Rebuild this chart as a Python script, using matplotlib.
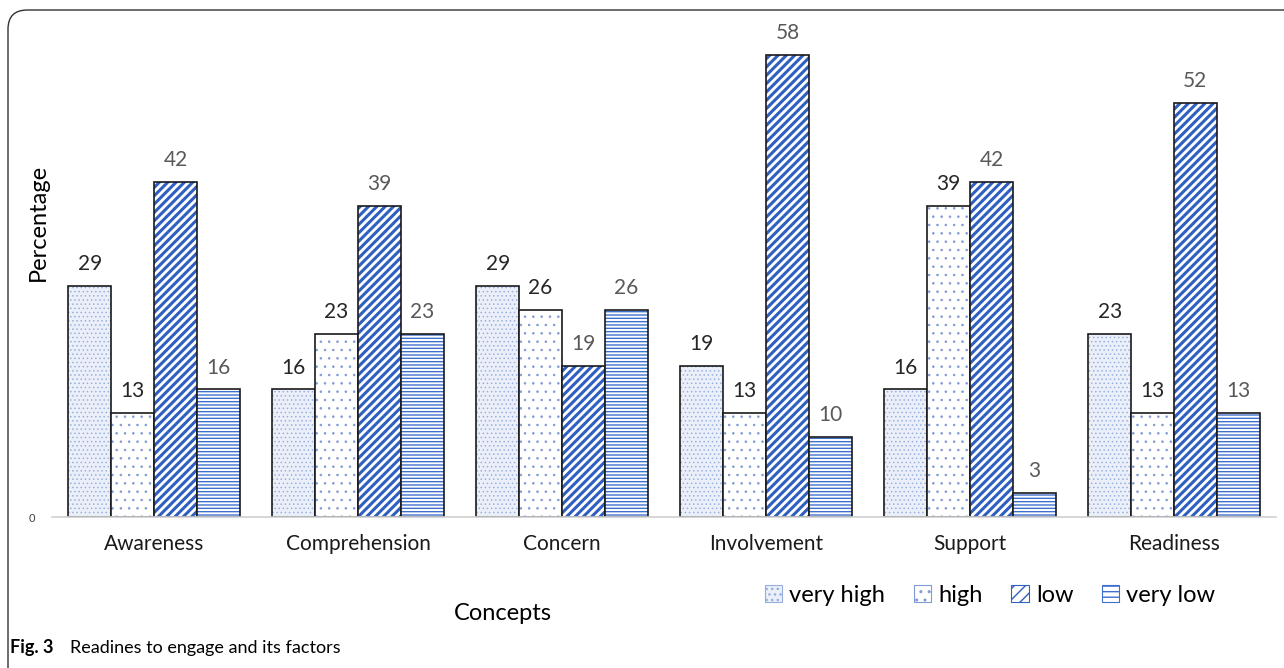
import numpy as np
import matplotlib.pyplot as plt
from matplotlib.patches import FancyBboxPatch, Patch

plt.rcParams['font.family'] = ['Lato', 'DejaVu Sans']

# --- data ---
concepts = ['Awareness', 'Comprehension', 'Concern', 'Involvement', 'Support', 'Readiness']
series = ['very high', 'high', 'low', 'very low']
very_high = [29, 16, 29, 19, 16, 23]
high = [13, 23, 26, 13, 39, 13]
low = [42, 39, 19, 58, 42, 52]
very_low = [16, 23, 26, 10, 3, 13]

values = [very_high, high, low, very_low]
faces = ['#eaeff9', 'white', 'white', 'white']
hatches = ['....', '..', '////', '-----']
hatch_cols = ['#97aedc', '#7f9bd4', '#2f5fc0', '#3f6fcc']
hatch_lw = [0.55, 0.6, 2.2, 1.0]
label_colors = ['#262626', '#262626', '#595959', '#595959']

fig = plt.figure(figsize=(12.84, 6.68), dpi=100)
ax = fig.add_axes([52 / 1284, 1 - 517 / 668, (1276 - 52) / 1284, (517 - 30) / 668])

x = np.arange(len(concepts))
w = 0.21
for i, vals in enumerate(values):
    pos = x + (i - 1.5) * w
    # hatch layer first, black outline on top
    plt.rcParams['hatch.linewidth'] = hatch_lw[i]
    ax.bar(pos, vals, w, color=faces[i], edgecolor=hatch_cols[i], hatch=hatches[i], linewidth=0)
    ax.bar(pos, vals, w, color='none', edgecolor='#1a1a1a', linewidth=1.2)
    for p, v in zip(pos, vals):
        ax.text(p, v + 1.5, str(v), ha='center', va='bottom', fontsize=15, color=label_colors[i])

ax.set_xlim(-0.5, 5.5)
ax.set_ylim(0, 61.1)
ax.set_yticks([0])
ax.tick_params(axis='y', length=0, labelsize=8, colors='#404040', pad=12)
ax.tick_params(axis='x', length=0, labelsize=15, pad=12)
ax.set_xticks(x)
ax.set_xticklabels(concepts, color='#1a1a1a')
for s in ['top', 'right', 'left']:
    ax.spines[s].set_visible(False)
ax.spines['bottom'].set_color('#d0d0d0')
ax.spines['bottom'].set_linewidth(1.2)

fig.text(38 / 1284, 1 - 222 / 668, 'Percentage', rotation=90, ha='center', va='center', fontsize=17)
fig.text(503 / 1284, 1 - 614 / 668, 'Concepts', ha='center', va='center', fontsize=17)

# legend
handles = []
for i in range(4):
    plt.rcParams['hatch.linewidth'] = min(hatch_lw[i], 1.2)
    handles.append(Patch(facecolor=faces[i], edgecolor=hatch_cols[i], hatch=hatches[i][:3], linewidth=0.8))
fig.legend(handles, series, loc='center', bbox_to_anchor=(990 / 1284, 1 - 595 / 668),
           ncol=4, frameon=False, fontsize=17, handlelength=0.75, handleheight=0.75,
           handletextpad=0.3, columnspacing=1.2)

# caption
fig.text(10 / 1284, 1 - 648 / 668, 'Fig. 3', fontsize=13, fontweight='bold', va='center', ha='left')
fig.text(70 / 1284, 1 - 648 / 668, 'Readines to engage and its factors', fontsize=13, va='center', ha='left')

# rounded frame
frame = FancyBboxPatch((8 / 1284, -0.05), 1.1, 1 - 10 / 668 + 0.05,
                       boxstyle='round,pad=0,rounding_size=0.015', transform=fig.transFigure,
                       facecolor='none', edgecolor='#333333', linewidth=1.0, mutation_aspect=1284 / 668)
fig.patches.append(frame)

fig.savefig('out.png', dpi=100)
